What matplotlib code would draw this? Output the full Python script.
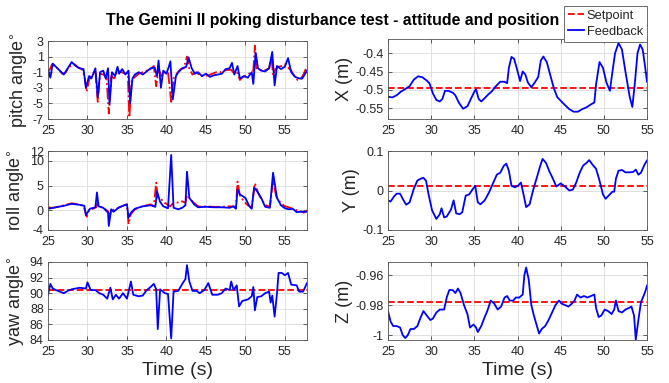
import matplotlib
matplotlib.use('Agg')
import matplotlib.pyplot as plt

plt.rcParams['font.family'] = ['Liberation Sans', 'DejaVu Sans']

# ---------------- attitude (deg) ----------------
pitch_t = [25, 25.3, 25.6, 26, 26.5, 27, 27.5, 28, 28.5, 29, 29.5, 29.8, 30.2, 30.5, 31, 31.3,
           31.6, 32, 32.3, 32.6, 32.8, 33.1, 33.5, 33.8, 34, 34.4, 34.8, 35.2, 35.4, 35.7, 36,
           36.5, 37, 37.5, 38, 38.5, 38.8, 39, 39.3, 39.6, 40, 40.3, 40.5, 40.8, 41.2, 41.5, 42,
           42.5, 42.8, 43.2, 43.6, 44, 44.5, 45, 45.5, 46, 47, 47.5, 48, 48.3, 48.6, 49, 49.3,
           49.8, 50.3, 50.8, 51, 51.3, 51.6, 52, 52.5, 53, 53.4, 53.7, 54, 54.5, 55, 55.4, 55.8,
           56.3, 56.8, 57.2, 57.8]
pitch_fb = [-0.8, -1.7, 0.1, -0.3, -0.8, -1.3, -0.5, 0.3, -0.2, -0.5, -0.6, -3.0, -1.5, -1.8,
            -0.5, -4.2, -1.0, -0.8, -1.8, -0.5, -5.1, -1.0, -1.5, -0.3, -1.2, -0.6, -1.3, -0.8,
            -5.0, -1.8, -1.3, -1.0, -1.3, -0.9, -0.5, -0.4, -1.5, 0.5, -3.0, -0.8, -1.2, -0.3,
            0.4, -4.5, -1.5, -1.0, -0.5, -0.3, 0.9, -0.5, -1.2, -1.0, -1.5, -1.2, -1.6, -1.4,
            -1.2, -0.6, -0.5, 0.2, -1.3, -0.2, -1.8, -1.5, -1.7, -1.0, -2.5, 1.5, -0.5, -0.8,
            -0.9, -0.5, 1.6, -2.7, -0.2, -0.6, -0.3, 0.8, -1.0, -1.6, -1.8, -1.8, -0.8]
pitch_sp_t = [25, 25.3, 25.5, 25.8, 26.3, 26.8, 27.2, 27.6, 28.0, 28.4, 28.8, 29.3, 29.6, 29.9,
              30.2, 30.6, 31.0, 31.3, 31.6, 32.0, 32.4, 32.7, 33.0, 33.4, 33.8, 34.3, 34.8, 35.1,
              35.3, 35.6, 36.0, 36.5, 37.0, 37.5, 38.0, 38.4, 38.7, 39.0, 39.4, 39.8, 40.2, 40.6,
              40.9, 41.3, 41.8, 42.2, 42.6, 42.9, 43.3, 43.8, 44.3, 44.8, 45.3, 45.8, 46.3, 46.8,
              47.3, 47.8, 48.2, 48.6, 49.0, 49.3, 49.7, 50.2, 50.7, 51.0, 51.2, 51.4, 51.7, 52.1,
              52.6, 53.0, 53.3, 53.5, 53.8, 54.2, 54.6, 55.0, 55.4, 55.8, 56.2, 56.6, 57.0, 57.4,
              57.8]
pitch_sp = [-1.0, -0.5, 0.0, -0.2, -0.6, -1.2, -1.1, -0.4, -0.1, 0.0, -0.4, -0.6, -1.5, -3.5,
            -2.0, -1.3, -0.8, -4.8, -1.2, -1.3, -1.6, -6.3, -1.5, -1.8, -0.8, -1.0, -1.2, -1.0,
            -6.8, -2.0, -1.6, -1.2, -1.0, -0.8, -0.6, -0.2, -2.8, -0.7, -1.5, -1.0, -1.0, -4.8,
            -1.8, -1.2, -0.6, -0.5, 1.0, -0.6, -1.3, -1.0, -1.5, -1.5, -1.4, -1.2, -1.0, -1.0,
            -0.8, -0.7, -0.7, -1.2, -1.1, -2.0, -1.6, -1.4, -1.0, -0.8, 2.4, -0.5, -0.6, -0.8,
            -0.7, -0.5, 1.0, -1.4, -0.6, -0.3, -0.2, 0.0, -0.4, -0.8, -1.5, -2.0, -1.9, -1.2,
            -0.2]

roll_t = [25, 26, 27, 28, 29, 29.6, 29.8, 30.3, 31, 31.2, 31.4, 32, 32.6, 32.7, 33, 33.3, 34,
          35, 35.2, 35.5, 36, 37, 38, 38.6, 38.8, 39.2, 39.6, 40.2, 40.6, 40.9, 41.5, 42, 42.4,
          42.6, 42.9, 43.5, 44, 45, 46, 47, 48, 48.5, 48.8, 49, 49.3, 50, 50.5, 50.8, 51.1, 51.5,
          52, 52.5, 53.1, 53.5, 54, 54.5, 55, 55.5, 56, 56.5, 57, 57.8]
roll_fb = [0.3, 0.6, 0.9, 1.3, 1.1, 0.9, -1.0, 0.3, 0.6, 3.6, 0.8, 0.5, -0.5, -3.2, 0.2, -0.3,
           0.6, 1.2, -1.5, -0.5, 0.3, 0.8, 1.0, 0.7, 3.8, 1.7, 0.8, 0.4, 11.2, 0.5, 0.2, 0.5,
           1.0, 7.8, 2.5, 1.2, 0.6, 0.7, 0.6, 0.6, 0.5, 0.8, 0.3, 4.2, 3.2, 2.5, 0.8, 0.3, 4.6,
           3.8, 2.5, 0.7, 0.5, 7.6, 2.5, 1.0, 0.4, 0.2, 0.3, -0.4, -0.3, -0.3]
roll_sp_t = [25, 25.5, 26, 26.5, 27, 27.5, 28, 28.5, 29, 29.5, 29.9, 30.2, 30.7, 31.1, 31.3,
             31.6, 32.1, 32.6, 32.8, 33.1, 33.6, 34.1, 34.6, 35.0, 35.2, 35.5, 36.0, 36.5, 37.0,
             37.5, 38.0, 38.4, 38.7, 38.9, 39.3, 39.7, 40.1, 40.5, 40.7, 41.0, 41.5, 42.0, 42.4,
             42.6, 42.9, 43.4, 44.0, 44.5, 45.0, 46.0, 47.0, 47.8, 48.4, 48.8, 49.0, 49.3, 49.8,
             50.3, 50.8, 51.2, 51.6, 52.1, 52.6, 53.1, 53.5, 53.9, 54.4, 55.0, 55.5, 56.0, 56.5,
             57.0, 57.4, 57.8]
roll_sp = [0.6, 0.5, 0.6, 0.8, 1.0, 1.2, 1.4, 1.3, 1.1, 0.9, -1.3, 0.0, 0.3, 0.6, 1.5, 0.7,
           0.4, -0.2, -1.0, 0.0, 0.3, 0.6, 1.0, 1.2, -2.8, -0.8, 0.2, 0.5, 0.8, 1.0, 1.2, 0.8,
           5.6, 2.6, 2.3, 1.6, 1.2, 0.8, 1.2, 1.4, 1.6, 1.8, 1.5, 3.0, 2.5, 1.6, 0.8, 0.7, 0.8,
           0.7, 0.7, 0.8, 0.8, 0.5, 5.8, 3.0, 1.8, 1.0, 0.6, 5.5, 3.5, 2.0, 1.0, 0.7, 6.0, 2.8,
           1.6, 0.8, 0.6, 0.3, 0.0, -0.2, -0.5, 0.0]

yaw_t = [25, 25.3, 25.6, 26, 26.5, 27, 27.5, 28, 29, 29.8, 30, 30.4, 31, 31.5, 32, 32.5, 32.9,
         33.2, 33.6, 34, 34.5, 35, 35.5, 35.8, 36.5, 37, 37.5, 38, 38.4, 38.7, 38.9, 39.2, 39.8,
         40.2, 40.6, 40.9, 41.5, 42, 42.4, 42.6, 42.9, 43.3, 43.8, 44.2, 44.8, 45.3, 45.8, 46.5,
         47, 47.5, 48, 48.2, 48.5, 48.9, 49.2, 49.6, 50.3, 50.8, 51, 51.2, 51.5, 52, 52.5, 53,
         53.2, 53.4, 53.7, 54, 54.2, 54.6, 55, 55.4, 55.8, 56.5, 56.8, 57.3, 57.8]
yaw_fb = [89.8, 91.2, 90.6, 90.4, 90.2, 90.0, 90.3, 90.5, 90.7, 90.6, 91.4, 90.4, 90.4, 90.0,
          89.8, 89.3, 90.7, 89.2, 89.8, 89.3, 90.0, 89.3, 91.5, 89.8, 89.6, 89.7, 90.4, 90.8,
          91.2, 90.5, 85.4, 90.5, 90.0, 89.9, 84.2, 90.2, 90.3, 91.2, 91.8, 93.6, 91.5, 90.3,
          90.3, 90.0, 90.4, 91.3, 89.8, 89.8, 90.0, 90.6, 90.4, 91.5, 90.4, 91.0, 88.3, 89.0,
          89.2, 89.6, 90.8, 87.8, 89.5, 89.6, 90.0, 90.2, 88.8, 89.7, 87.0, 90.0, 92.6, 92.6,
          92.3, 92.6, 91.1, 91.0, 90.2, 90.2, 91.3]
yaw_sp = 90.4

# ---------------- position (m) ----------------
x_t = [25, 25.5, 26, 26.5, 27, 27.5, 28, 28.5, 29, 29.5, 29.8, 30.2, 30.6, 31, 31.3, 31.6, 32,
       32.5, 32.8, 33.2, 33.7, 34.2, 34.6, 35, 35.2, 35.5, 35.8, 36.2, 36.6, 37, 37.5, 38, 38.5,
       38.8, 39, 39.3, 39.6, 39.9, 40.3, 40.6, 40.9, 41.2, 41.6, 42, 42.4, 42.7, 43, 43.4, 43.8,
       44.2, 44.6, 45, 45.5, 46, 46.5, 47, 47.5, 48, 48.5, 48.9, 49.1, 49.5, 49.9, 50.3, 50.7,
       51, 51.3, 51.7, 52.1, 52.5, 53, 53.3, 53.6, 53.9, 54.2, 54.5, 54.8, 55]
x_fb = [-0.519, -0.521, -0.515, -0.505, -0.498, -0.490, -0.472, -0.463, -0.466, -0.475, -0.482,
        -0.510, -0.528, -0.532, -0.525, -0.503, -0.503, -0.508, -0.515, -0.535, -0.552, -0.545,
        -0.525, -0.505, -0.499, -0.525, -0.532, -0.523, -0.513, -0.505, -0.490, -0.478, -0.478,
        -0.482, -0.440, -0.410, -0.415, -0.440, -0.476, -0.450, -0.458, -0.480, -0.493, -0.480,
        -0.465, -0.420, -0.409, -0.425, -0.460, -0.495, -0.520, -0.530, -0.542, -0.553, -0.560,
        -0.560, -0.553, -0.548, -0.540, -0.535, -0.485, -0.424, -0.440, -0.480, -0.503, -0.450,
        -0.400, -0.372, -0.390, -0.450, -0.520, -0.547, -0.480, -0.400, -0.376, -0.390, -0.440,
        -0.478]
x_sp = -0.494

y_t = [25, 25.3, 25.7, 26, 26.4, 26.8, 27.1, 27.5, 28, 28.4, 28.8, 29.1, 29.4, 29.7, 30.1, 30.6,
       31, 31.2, 31.5, 31.8, 32.3, 32.6, 32.9, 33.3, 33.6, 34, 34.4, 34.8, 35.1, 35.4, 35.7, 36.2,
       36.7, 37.2, 37.6, 38, 38.4, 38.7, 39, 39.3, 39.7, 40.1, 40.4, 40.7, 41, 41.4, 41.8, 42.2,
       42.6, 42.9, 43.3, 43.7, 44.1, 44.5, 45, 45.5, 46, 46.4, 46.8, 47.2, 47.6, 48, 48.3, 48.7,
       49.1, 49.5, 49.9, 50.2, 50.6, 51, 51.2, 51.4, 51.7, 52.1, 52.5, 53, 53.4, 53.7, 54, 54.3,
       54.7, 55]
y_fb = [-0.025, -0.028, -0.015, -0.008, -0.008, -0.025, -0.036, -0.030, 0.005, 0.025, 0.030,
        0.032, 0.025, -0.010, -0.050, -0.072, -0.060, -0.045, -0.068, -0.066, -0.048, -0.025,
        -0.058, -0.060, -0.055, -0.013, -0.010, 0.003, 0.012, -0.030, -0.035, -0.025, -0.005,
        0.020, 0.040, 0.045, 0.062, 0.068, 0.050, 0.012, 0.008, 0.013, 0.020, -0.010, -0.042,
        -0.035, 0.000, 0.030, 0.060, 0.080, 0.070, 0.048, 0.030, 0.010, 0.018, 0.010, 0.000,
        0.002, 0.020, 0.045, 0.063, 0.070, 0.077, 0.065, 0.055, 0.025, -0.010, -0.021, -0.012,
        -0.003, -0.003, 0.030, 0.050, 0.052, 0.046, 0.046, 0.047, 0.053, 0.040, 0.045, 0.065,
        0.076]
y_sp = 0.012

z_t = [25, 25.3, 25.6, 26, 26.4, 26.7, 27, 27.3, 27.6, 28, 28.4, 28.8, 29.1, 29.5, 29.9, 30.2,
       30.6, 31, 31.5, 31.8, 32.1, 32.5, 32.8, 33.1, 33.4, 33.8, 34.2, 34.5, 34.9, 35.2, 35.4,
       35.8, 36.2, 36.5, 36.9, 37.3, 37.7, 38.1, 38.5, 38.8, 39.1, 39.5, 39.8, 40.2, 40.6, 40.8,
       41, 41.3, 41.6, 41.9, 42.2, 42.5, 42.8, 43.2, 43.6, 44, 44.4, 44.8, 45.1, 45.5, 45.9,
       46.3, 46.6, 46.9, 47.3, 47.7, 48.1, 48.5, 48.9, 49.1, 49.4, 49.7, 50.1, 50.5, 50.9, 51.2,
       51.4, 51.7, 52.1, 52.5, 52.9, 53.2, 53.5, 53.7, 54, 54.3, 54.6, 54.8, 55]
z_fb = [-0.984, -0.991, -0.994, -0.994, -0.995, -1.000, -1.002, -1.000, -0.996, -0.996, -0.994,
        -0.988, -0.984, -0.987, -0.990, -0.989, -0.985, -0.983, -0.983, -0.975, -0.970, -0.970,
        -0.972, -0.969, -0.972, -0.980, -0.986, -0.995, -0.993, -0.995, -0.998, -0.994, -0.988,
        -0.984, -0.977, -0.979, -0.983, -0.981, -0.975, -0.974, -0.977, -0.977, -0.975, -0.975,
        -0.973, -0.960, -0.955, -0.963, -0.980, -0.987, -0.993, -0.999, -0.996, -0.994, -0.990,
        -0.985, -0.980, -0.977, -0.979, -0.980, -0.981, -0.979, -0.977, -0.973, -0.975, -0.974,
        -0.975, -0.974, -0.973, -0.982, -0.988, -0.987, -0.983, -0.984, -0.986, -0.983, -0.977,
        -0.984, -0.985, -0.983, -0.982, -0.981, -0.987, -1.003, -0.990, -0.978, -0.974, -0.971,
        -0.967]
z_sp = -0.9778

BLUE = '#0000ff'
RED = '#ff0000'
FG = '#262626'

fig = plt.figure(figsize=(6.69, 3.83), dpi=100)

left_x, right_x, w = 48 / 669, 388 / 669, 259 / 669
rows = [(1 - 119 / 383, 78 / 383), (1 - 230 / 383, 79 / 383), (1 - 340 / 383, 78 / 383)]


def style(ax, xmax, yticks, ylabels, ylim, ylabel, xlabel=None):
    ax.set_xlim(25, xmax)
    ax.set_xticks([25, 30, 35, 40, 45, 50, 55])
    ax.set_ylim(*ylim)
    ax.set_yticks(yticks)
    ax.set_yticklabels(ylabels)
    ax.grid(True, color='#dcdcdc', linewidth=0.6)
    ax.set_axisbelow(True)
    ax.tick_params(direction='in', length=3, width=0.5, colors=FG, labelsize=9,
                   top=True, right=True)
    ax.tick_params(axis='x', pad=4)
    ax.tick_params(axis='y', pad=3)
    for s in ax.spines.values():
        s.set_color('#555555')
        s.set_linewidth(0.6)
    ax.set_ylabel(ylabel, fontsize=13, color=FG, labelpad=2)
    if xlabel:
        ax.set_xlabel(xlabel, fontsize=14, color=FG, labelpad=3)


# pitch
ax = fig.add_axes([left_x, rows[0][0], w, rows[0][1]])
ax.plot(pitch_sp_t, pitch_sp, color=RED, ls='-.', lw=1.3)
ax.plot(pitch_t, pitch_fb, color=BLUE, lw=1.3)
style(ax, 57.8, [-7, -5, -3, -1, 1, 3], ['-7', '-5', '-3', '-1', '1', '3'], (-7, 3),
      r'pitch angle$^{\circ}$')

# roll
ax = fig.add_axes([left_x, rows[1][0], w, rows[1][1]])
ax.plot(roll_sp_t, roll_sp, color=RED, ls='-.', lw=1.3)
ax.plot(roll_t, roll_fb, color=BLUE, lw=1.3)
style(ax, 57.8, [-4, 0, 5, 10, 12], ['-4', '0', '5', '10', '12'], (-4, 12),
      r'roll angle$^{\circ}$')

# yaw
ax = fig.add_axes([left_x, rows[2][0], w, rows[2][1]])
ax.axhline(yaw_sp, color=RED, ls='--', lw=1.3)
ax.plot(yaw_t, yaw_fb, color=BLUE, lw=1.3)
style(ax, 57.8, [84, 86, 88, 90, 92, 94], ['84', '86', '88', '90', '92', '94'], (84, 94),
      r'yaw angle$^{\circ}$', 'Time (s)')

# X
ax = fig.add_axes([right_x, rows[0][0], w, rows[0][1] + 2 / 383])
sp_line, = ax.plot([25, 55], [x_sp, x_sp], color=RED, ls='--', lw=1.3)
fb_line, = ax.plot(x_t, x_fb, color=BLUE, lw=1.3)
style(ax, 55, [-0.55, -0.5, -0.45, -0.4], ['-0.55', '-0.5', '-0.45', '-0.4'], (-0.58, -0.361),
      'X (m)')

# Y
ax = fig.add_axes([right_x, rows[1][0], w, rows[1][1]])
ax.plot([25, 55], [y_sp, y_sp], color=RED, ls='--', lw=1.3)
ax.plot(y_t, y_fb, color=BLUE, lw=1.3)
style(ax, 55, [-0.1, 0, 0.1], ['-0.1', '0', '0.1'], (-0.1, 0.1), 'Y (m)')

# Z
ax = fig.add_axes([right_x, rows[2][0], w, rows[2][1]])
ax.plot([25, 55], [z_sp, z_sp], color=RED, ls='--', lw=1.3)
ax.plot(z_t, z_fb, color=BLUE, lw=1.3)
style(ax, 55, [-1, -0.98, -0.96], ['-1', '-0.98', '-0.96'], (-1.0033, -0.9513), 'Z (m)',
      'Time (s)')

fig.text(333 / 669, 1 - 20 / 383, 'The Gemini II poking disturbance test - attitude and position',
         ha='center', va='center', fontsize=11.4, fontweight='bold', color='black')

leg = fig.legend([sp_line, fb_line], ['Setpoint', 'Feedback'], loc='upper right',
                 bbox_to_anchor=(647 / 669, 1 - 6 / 383), fontsize=9.3, frameon=True,
                 fancybox=False, borderpad=0.3, handlelength=1.3, handletextpad=0.2,
                 labelspacing=0.3, borderaxespad=0, framealpha=1)
leg.get_frame().set_edgecolor('#555555')
leg.get_frame().set_linewidth(0.6)
for t in leg.get_texts():
    t.set_color(FG)

fig.savefig('out.png', dpi=100)
